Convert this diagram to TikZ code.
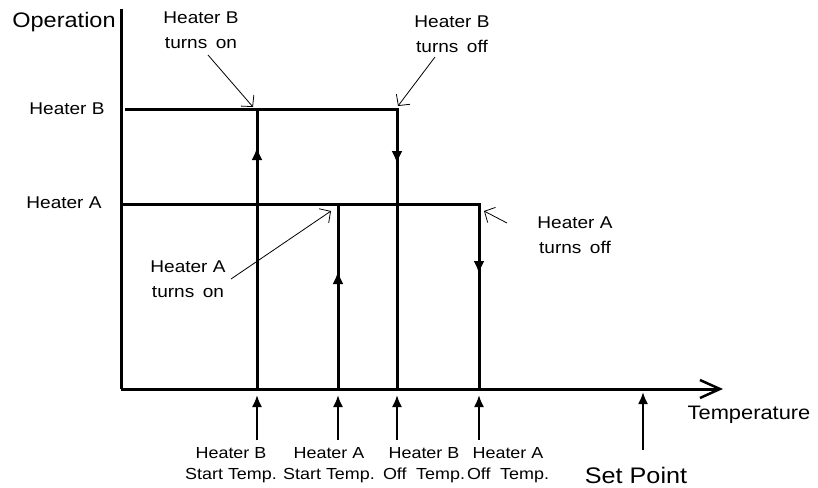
\documentclass[tikz,border=0pt]{standalone}
\usepackage{fontspec}
\setmainfont[FakeStretch=1.12]{Liberation Sans}
\usetikzlibrary{arrows.meta}
\tikzset{
  heatline/.style={line width=3pt},
  flow/.style={line width=3pt,-{Latex[length=13pt,width=11pt]}},
  pointer/.style={line width=0.8pt,-{Straight Barb[length=8pt,width=17pt]}},
  tempmark/.style={line width=2pt,-{Latex[length=12pt,width=10pt]}},
  lbl/.style={inner sep=0pt,align=center,font=\fontsize{17}{25}\selectfont},
  tlbl/.style={inner sep=0pt,align=center,font=\fontsize{16}{21}\selectfont},
}
\begin{document}
\begin{tikzpicture}[x=1pt,y=-1pt]
\useasboundingbox (0,0) rectangle (818,487);

% axes
\coordinate (origin) at (121,389);
\coordinate (ytop) at (121,9);
\coordinate (xend) at (723,389);
\draw[heatline] (ytop) -- (origin);
\draw[heatline,-{Straight Barb[length=20pt,width=18pt,line width=2.5pt]}] (origin) -- (xend);

% heater B
\coordinate (bstart) at (125,109);
\coordinate (bon) at (257,109);
\coordinate (bonmid) at (257,147);
\coordinate (bonlow) at (257,389);
\coordinate (boff) at (397,109);
\coordinate (boffmid) at (397,164);
\coordinate (bofflow) at (397,389);
\draw[heatline] (bstart) -- (boff) -- (bofflow);
\draw[flow] (boff) -- (boffmid);
\draw[heatline] (bonlow) -- (bon);
\draw[flow] (bonlow) -- (bonmid);

% heater A
\coordinate (astart) at (121,204);
\coordinate (aon) at (338,204);
\coordinate (aonmid) at (338,271);
\coordinate (aonlow) at (338,389);
\coordinate (aoff) at (479,204);
\coordinate (aoffmid) at (479,274);
\coordinate (aofflow) at (479,389);
\draw[heatline] (astart) -- (aoff) -- (aofflow);
\draw[flow] (aoff) -- (aoffmid);
\draw[heatline] (aonlow) -- (aon);
\draw[flow] (aonlow) -- (aonmid);

% labels
\node[anchor=base,inner sep=0pt,font=\fontsize{21}{25}\selectfont] (operation) at (64,27.5) {Operation};
\node[lbl] (hb) at (67,109) {Heater B};
\node[lbl] (ha) at (64,203) {Heater A};
\node[anchor=base,inner sep=0pt,font=\fontsize{19.5}{24}\selectfont] (templbl) at (749,419) {Temperature};

\node[lbl] (bonlbl) at (201,30) {Heater B\\turns\hspace{.5em}on};
\node[lbl] (bofflbl) at (452,34) {Heater B\\turns\hspace{.5em}off};
\node[lbl] (aonlbl) at (188,279) {Heater A\\turns\hspace{.5em}on};
\node[lbl] (aofflbl) at (575,235) {Heater A\\turns\hspace{.5em}off};

\coordinate (bontail) at (208,55);
\coordinate (bontip) at (253,107);
\coordinate (bofftail) at (435,57);
\coordinate (bofftip) at (398,106);
\coordinate (aontail) at (231,279);
\coordinate (aontip) at (331,211);
\coordinate (aofftail) at (507,223);
\coordinate (aofftip) at (484,211);
\draw[pointer] (bontail) -- (bontip);
\draw[pointer] (bofftail) -- (bofftip);
\draw[pointer] (aontail) -- (aontip);
\draw[pointer] (aofftail) -- (aofftip);

% temperatures
\node[tlbl] (bst) at (231,465) {Heater B\\Start Temp.};
\node[tlbl] (ast) at (329,465) {Heater A\\Start Temp.};
\node[tlbl] (bot) at (424,465) {Heater B\\Off\hspace{.6em}Temp.};
\node[tlbl] (aot) at (508,465) {Heater A\\Off\hspace{.6em}Temp.};
\node[inner sep=0pt,font=\fontsize{22.5}{26}\selectfont] (setpt) at (636,475) {Set Point};

\coordinate (bsttail) at (257,440);
\coordinate (bsttip) at (257,395);
\coordinate (asttail) at (338,440);
\coordinate (asttip) at (338,395);
\coordinate (bottail) at (397,440);
\coordinate (bottip) at (397,395);
\coordinate (aottail) at (479,440);
\coordinate (aottip) at (479,395);
\coordinate (setpttail) at (643,450);
\coordinate (setpttip) at (643,392);
\draw[tempmark] (bsttail) -- (bsttip);
\draw[tempmark] (asttail) -- (asttip);
\draw[tempmark] (bottail) -- (bottip);
\draw[tempmark] (aottail) -- (aottip);
\draw[tempmark] (setpttail) -- (setpttip);
\end{tikzpicture}
\end{document}
